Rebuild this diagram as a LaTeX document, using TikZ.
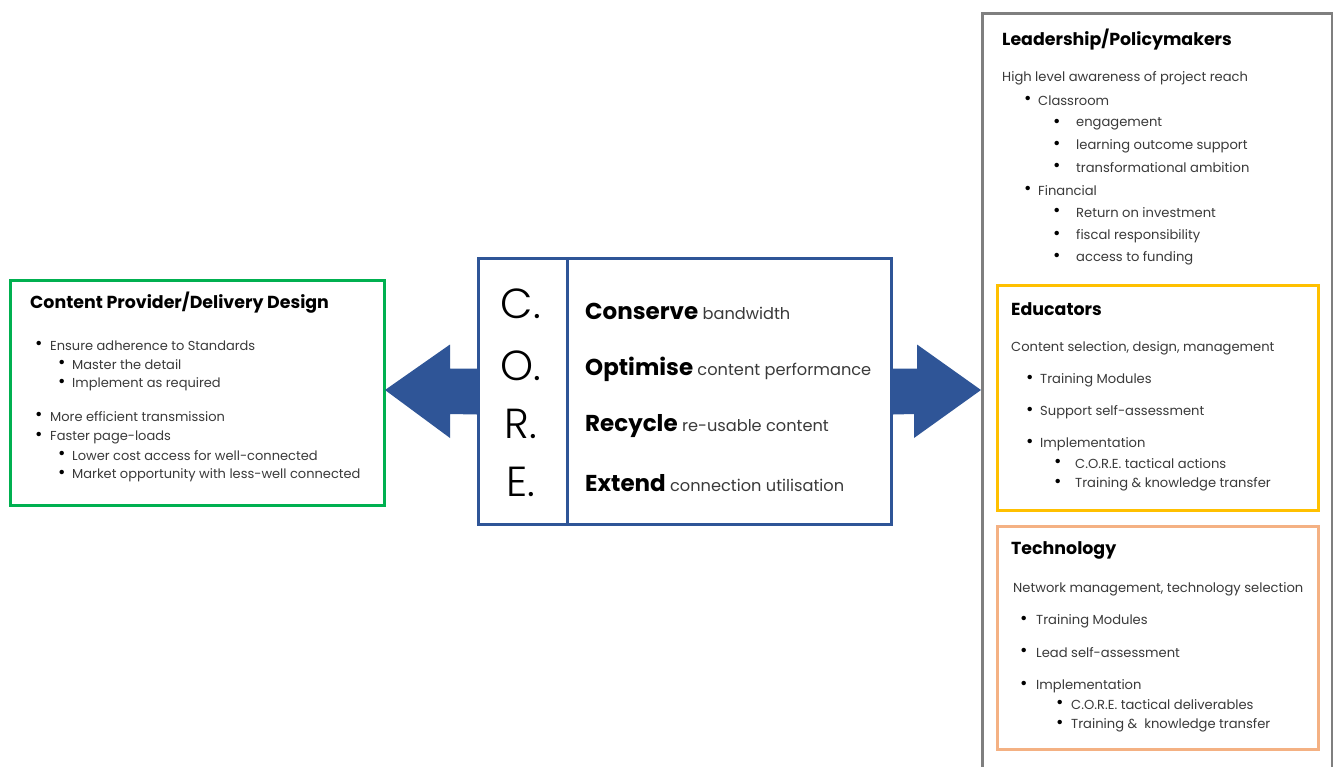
\documentclass[tikz,border=0pt]{standalone}
\usepackage{fontspec}
\usetikzlibrary{calc}
\setmainfont{Poppins}
\newfontfamily\thinfont{Poppins Light}
\definecolor{cgreen}{HTML}{00B050}
\definecolor{cblue}{HTML}{2F5597}
\definecolor{cgray}{HTML}{7F7F7F}
\definecolor{cyellow}{HTML}{FFC000}
\definecolor{corange}{HTML}{F4B183}
\definecolor{txt}{HTML}{3A3A3A}
\newcommand{\bigw}[1]{\textcolor{black}{\fontsize{23}{26}\selectfont\bfseries #1}}
\tikzset{
  frame/.style={line width=3pt},
  ttl/.style={anchor=west, inner sep=0pt, font=\fontsize{17.4}{20}\selectfont\bfseries, text=black},
  body/.style={anchor=west, inner sep=0pt, font=\fontsize{13}{15}\selectfont, text=txt},
  sbody/.style={anchor=west, inner sep=0pt, font=\fontsize{13.1}{15}\selectfont, text=txt},
  dot/.style={anchor=west, inner sep=0pt, font=\fontsize{18}{20}\selectfont, text=black},
  letter/.style={anchor=center, inner sep=0pt, font=\fontsize{42}{46}\selectfont\thinfont, text=black},
  core/.style={anchor=west, inner sep=0pt, font=\fontsize{16.2}{19}\selectfont, text=txt},
}
\begin{document}
\begin{tikzpicture}[x=1pt,y=-1pt]
\useasboundingbox (0,0) rectangle (1333,766);
\clip (0,0) rectangle (1333,766);
\fill[white] (0,0) rectangle (1333,766);

% ---------- left box ----------
\node[frame, draw=cgreen, minimum width=374pt, minimum height=225pt, anchor=north west] (left) at (9,279) {};
\node[ttl] (lt) at (30,303) {Content Provider/Delivery Design};
\node[dot] (lb1) at (35,345) {•}; \node[body] (l1) at (50,346) {Ensure adherence to Standards};
\node[dot] (lb2) at (58,364) {•}; \node[body] (l2) at (72,365) {Master the detail};
\node[dot] (lb3) at (58,383) {•}; \node[body] (l3) at (72,384) {Implement as required};
\node[dot] (lb4) at (35,416) {•}; \node[body] (l4) at (50,417) {More efficient transmission};
\node[dot] (lb5) at (35,436) {•}; \node[body] (l5) at (50,437) {Faster page-loads};
\node[dot] (lb6) at (58,455) {•}; \node[body] (l6) at (72,456) {Lower cost access for well-connected};
\node[dot] (lb7) at (58,474) {•}; \node[body] (l7) at (72,475) {Market opportunity with less-well connected};

% ---------- center box ----------
\node[frame, draw=cblue, minimum width=413pt, minimum height=266pt, anchor=north west] (core) at (477,257) {};
\draw[frame, cblue] (567,257) -- (567,523);
\node[letter] (c) at (521,304) {C.};
\node[letter] (o) at (521,366) {O.};
\node[letter] (r) at (521,424) {R.};
\node[letter] (e) at (521,482) {E.};
\node[core] (t1) at (585,311) {\bigw{Conserve} bandwidth};
\node[core] (t2) at (585,369) {\bigw{Optimise} content performance};
\node[core] (t3) at (585,426) {\bigw{Recycle} re-usable content};
\node[core] (t4) at (585,483) {\bigw{Extend} connection utilisation};

% ---------- block arrows ----------
\coordinate (la) at (core.west);
\fill[cblue] ($(la)+(0,-23)$) -- ++(-27,0) -- ++(0,-24) -- (385,390) -- (450,438) -- ++(0,-24) -- ($(la)+(0,23)$) -- cycle;
\coordinate (ra) at (core.east);
\fill[cblue] ($(ra)+(0,-23)$) -- ++(24,0) -- ++(0,-24) -- (981,390) -- (914,438) -- ++(0,-24) -- ($(ra)+(0,23)$) -- cycle;

% ---------- right column ----------
\node[frame, draw=cgray, minimum width=350pt, minimum height=780pt, anchor=north west] (rgt) at (981,12) {};
\node[ttl] (rt) at (1002,40) {Leadership/Policymakers};
\node[sbody] (r0) at (1002,78) {High level awareness of project reach};
\node[dot] (rb1) at (1024,100) {•}; \node[sbody] (r1) at (1038,101) {Classroom};
\node[dot] (rb2) at (1053,123) {•}; \node[sbody] (r2) at (1076,124) {engagement};
\node[dot] (rb3) at (1053,145) {•}; \node[sbody] (r3) at (1076,146) {learning outcome support};
\node[dot] (rb4) at (1053,167) {•}; \node[sbody] (r4) at (1076,168) {transformational ambition};
\node[dot] (rb5) at (1024,190) {•}; \node[sbody] (r5) at (1038,191) {Financial};
\node[dot] (rb6) at (1053,212) {•}; \node[sbody] (r6) at (1076,213) {Return on investment};
\node[dot] (rb7) at (1053,235) {•}; \node[sbody] (r7) at (1076,236) {fiscal responsibility};
\node[dot] (rb8) at (1053,257) {•}; \node[sbody] (r8) at (1076,258) {access to funding};

\node[frame, draw=cyellow, minimum width=321pt, minimum height=225pt, anchor=north west] (edu) at (996,284) {};
\node[ttl] (et) at (1011,309) {Educators};
\node[sbody] (e0) at (1011,348) {Content selection, design, management};
\node[dot] (eb1) at (1026,379) {•}; \node[sbody] (e1) at (1040,380) {Training Modules};
\node[dot] (eb2) at (1026,411) {•}; \node[sbody] (e2) at (1040,412) {Support self-assessment};
\node[dot] (eb3) at (1026,443) {•}; \node[sbody] (e3) at (1040,444) {Implementation};
\node[dot] (eb4) at (1054,463) {•}; \node[sbody] (e4) at (1075,464) {C.O.R.E. tactical actions};
\node[dot] (eb5) at (1054,483) {•}; \node[sbody] (e5) at (1075,484) {Training \& knowledge transfer};

\node[frame, draw=corange, minimum width=321pt, minimum height=223pt, anchor=north west] (tech) at (996,525) {};
\node[ttl] (tt) at (1011,550) {Technology};
\node[sbody] (te0) at (1013,589) {Network management, technology selection};
\node[dot] (tb1) at (1020,620) {•}; \node[sbody] (te1) at (1036,621) {Training Modules};
\node[dot] (tb2) at (1020,652) {•}; \node[sbody] (te2) at (1036,653) {Lead self-assessment};
\node[dot] (tb3) at (1020,685) {•}; \node[sbody] (te3) at (1036,686) {Implementation};
\node[dot] (tb4) at (1056,704) {•}; \node[sbody] (te4) at (1071,705) {C.O.R.E. tactical deliverables};
\node[dot] (tb5) at (1056,724) {•}; \node[sbody] (te5) at (1071,725) {Training \&\ \ knowledge transfer};
\end{tikzpicture}
\end{document}
